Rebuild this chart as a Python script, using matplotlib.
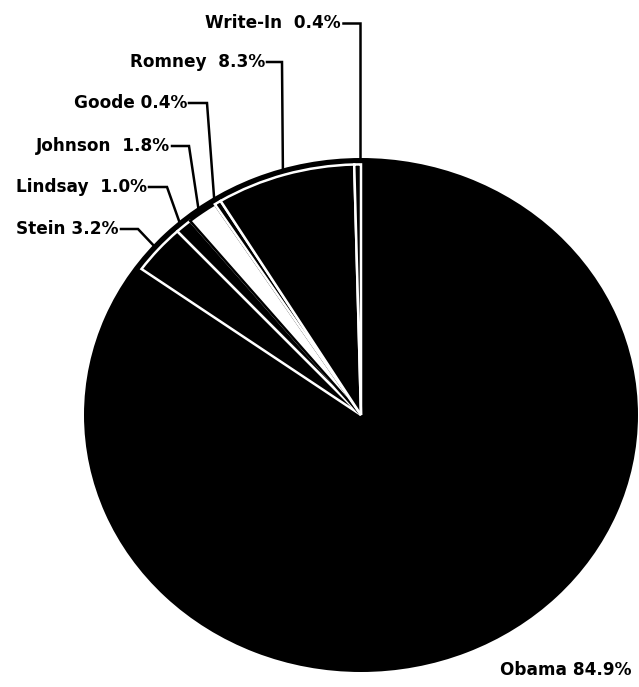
import matplotlib.pyplot as plt
import numpy as np

# vote shares, clockwise from 12 o'clock
candidates = ["Obama", "Stein", "Lindsay", "Johnson", "Goode", "Romney", "Write-In"]
shares = [84.9, 3.2, 1.0, 1.8, 0.4, 8.3, 0.4]
label_text = ["Obama 84.9%", "Stein 3.2%", "Lindsay  1.0%", "Johnson  1.8%",
              "Goode 0.4%", "Romney  8.3%", "Write-In  0.4%"]
face_colors = ["black", "black", "black", "white", "black", "black", "black"]

W, H = 639, 687
CX, CY, RX, RY = 361, 415, 277, 257

fig = plt.figure(figsize=(W / 100, H / 100), dpi=100)
ax = fig.add_axes([(CX - RX) / W, (H - CY - RY) / H, 2 * RX / W, 2 * RY / H])

# outer black disc, then inset wedges with white outlines
ax.pie([1], colors=["black"], radius=1.0, startangle=90)
wedges, _ = ax.pie(shares, colors=face_colors, radius=0.975, startangle=90,
                   counterclock=False,
                   wedgeprops=dict(edgecolor="white", linewidth=1.8))
wedges[0].set_edgecolor("none")
wedges[3].set_edgecolor("black")
ax.set_aspect("auto")
ax.set_xlim(-1, 1)
ax.set_ylim(-1, 1)


def to_data(px, py):
    return (px - CX) / RX, (CY - py) / RY


# label layout in pixels: text right end, row y, leader corner x
label_pos = {
    "Write-In": (341, 23, 360),
    "Romney": (265, 62, 282),
    "Goode": (187, 103, 207),
    "Johnson": (170, 146, 189),
    "Lindsay": (147, 187, 167),
    "Stein": (119, 229, 138),
}

font = dict(family="DejaVu Sans", weight="bold", size=12.2)
for w, name, txt in zip(wedges, candidates, label_text):
    if name == "Obama":
        x, y = to_data(631, 670)
        ax.text(x, y, txt, ha="right", va="center", clip_on=False, **font)
        continue
    ang = np.deg2rad((w.theta1 + w.theta2) / 2)
    ex, ey = np.cos(ang), np.sin(ang)
    tx, ty, cx = label_pos[name]
    x0, y0 = to_data(tx + 2, ty)
    x1, _ = to_data(cx, ty)
    if name == "Write-In":
        ex = x1
    ax.text(x0 - 2 / RX, y0, txt, ha="right", va="center", clip_on=False, **font)
    ax.plot([x0, x1, ex], [y0, y0, ey], color="black", lw=1.8, clip_on=False,
            solid_joinstyle="miter")

plt.savefig("out.png", dpi=100)
